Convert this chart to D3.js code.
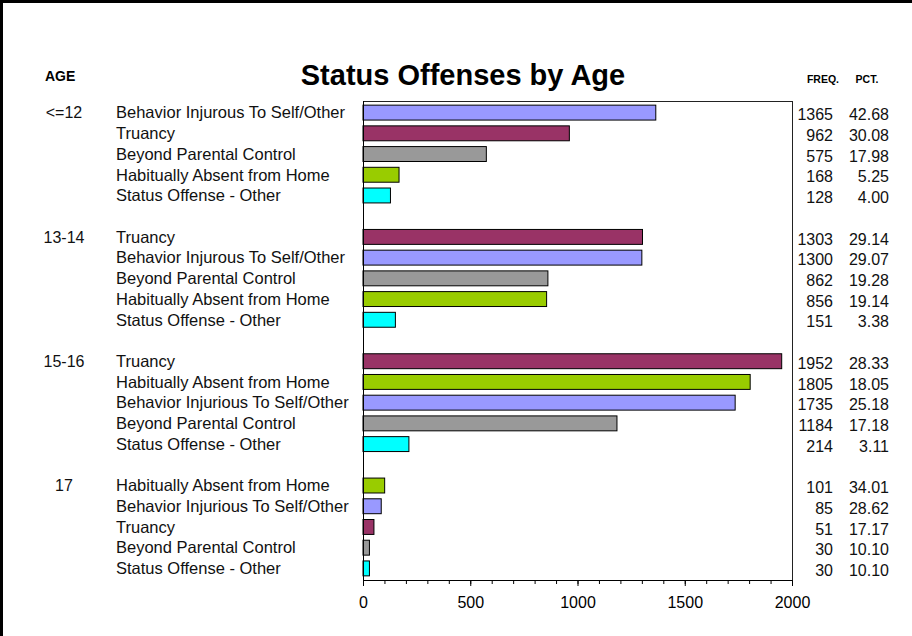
<!DOCTYPE html>
<html>
<head>
<meta charset="utf-8">
<script src="https://cdn.jsdelivr.net/npm/d3@7"></script>
<style>
  html, body { margin: 0; padding: 0; background: #fff; }
  svg { display: block; font-family: Arial, "Liberation Sans", sans-serif; }
</style>
</head>
<body>
<svg id="chart" width="912" height="636"></svg>
<script>
// ---- Data ----
const title = "Status Offenses by Age";
const ageGroups = ["<=12", "13-14", "15-16", "17"];
const offenseLabels = [
  ["Behavior Injurous To Self/Other", "Truancy", "Beyond Parental Control", "Habitually Absent from Home", "Status Offense - Other"],
  ["Truancy", "Behavior Injurous To Self/Other", "Beyond Parental Control", "Habitually Absent from Home", "Status Offense - Other"],
  ["Truancy", "Habitually Absent from Home", "Behavior Injurious To Self/Other", "Beyond Parental Control", "Status Offense - Other"],
  ["Habitually Absent from Home", "Behavior Injurious To Self/Other", "Truancy", "Beyond Parental Control", "Status Offense - Other"]
];
const offenseTypes = [
  ["behavior", "truancy", "beyond", "absent", "other"],
  ["truancy", "behavior", "beyond", "absent", "other"],
  ["truancy", "absent", "behavior", "beyond", "other"],
  ["absent", "behavior", "truancy", "beyond", "other"]
];
const freq = [
  [1365, 962, 575, 168, 128],
  [1303, 1300, 862, 856, 151],
  [1952, 1805, 1735, 1184, 214],
  [101, 85, 51, 30, 30]
];
const pct = [
  [42.68, 30.08, 17.98, 5.25, 4.00],
  [29.14, 29.07, 19.28, 19.14, 3.38],
  [28.33, 18.05, 25.18, 17.18, 3.11],
  [34.01, 28.62, 17.17, 10.10, 10.10]
];
const typeNames = ["behavior", "truancy", "beyond", "absent", "other"];
const typeColors = ["#9999FF", "#993366", "#999999", "#99CC00", "#00FFFF"];
const xTicks = [0, 500, 1000, 1500, 2000];
const xMinorTicks = d3.range(0, 2001, 100);

// ---- Build rows (with gap rows between groups) ----
const rows = [];
ageGroups.forEach((age, g) => {
  freq[g].forEach((v, i) => {
    rows.push({
      row: g * 6 + i, age: age, first: i === 0,
      label: offenseLabels[g][i], type: offenseTypes[g][i],
      value: v, pct: pct[g][i]
    });
  });
});
const nRows = ageGroups.length * 6 - 1;

// ---- Layout ----
const svg = d3.select("#chart");
const plot = { left: 363, right: 792, top: 101, bottom: 580 };

const x = d3.scaleLinear().domain([0, 2000]).range([plot.left, plot.right]);
const y = d3.scaleBand().domain(d3.range(nRows)).range([plot.top, plot.bottom])
  .paddingInner(0.28).paddingOuter(0.2);
const color = d3.scaleOrdinal().domain(typeNames).range(typeColors);

// outer frame (left and top edges visible)
svg.append("line").attr("x1", 1.5).attr("x2", 1.5).attr("y1", 0).attr("y2", 636)
  .attr("stroke", "#000").attr("stroke-width", 3);
svg.append("line").attr("x1", 0).attr("x2", 912).attr("y1", 1.5).attr("y2", 1.5)
  .attr("stroke", "#000").attr("stroke-width", 3);

// title
svg.append("text").attr("x", 463).attr("y", 85).attr("text-anchor", "middle")
  .attr("font-size", 29).attr("font-weight", "bold").text(title);

// column headers
svg.append("text").attr("x", 45).attr("y", 81).attr("font-size", 14)
  .attr("font-weight", "bold").text("AGE");
svg.append("text").attr("x", 823).attr("y", 83).attr("text-anchor", "middle")
  .attr("font-size", 10.5).attr("font-weight", "bold").text("FREQ.");
svg.append("text").attr("x", 867).attr("y", 83).attr("text-anchor", "middle")
  .attr("font-size", 10.5).attr("font-weight", "bold").text("PCT.");

// plot frame: top and right edges
svg.append("line").attr("x1", plot.left).attr("x2", plot.right + 0.5)
  .attr("y1", plot.top + 0.5).attr("y2", plot.top + 0.5)
  .attr("stroke", "#222").attr("stroke-width", 1);
svg.append("line").attr("x1", plot.right + 0.5).attr("x2", plot.right + 0.5)
  .attr("y1", plot.top).attr("y2", plot.bottom)
  .attr("stroke", "#222").attr("stroke-width", 1);

// bars
svg.append("g").selectAll("rect").data(rows).join("rect")
  .attr("x", x(0))
  .attr("y", d => y(d.row))
  .attr("width", d => x(d.value) - x(0))
  .attr("height", y.bandwidth())
  .attr("fill", d => color(d.type))
  .attr("stroke", "#000").attr("stroke-width", 1);

// left axis line
svg.append("line").attr("x1", plot.left + 0.5).attr("x2", plot.left + 0.5)
  .attr("y1", plot.top).attr("y2", plot.bottom)
  .attr("stroke", "#000").attr("stroke-width", 1);

// x axis: minor ticks
const minorAxis = svg.append("g").attr("transform", `translate(0,${plot.bottom})`)
  .call(d3.axisBottom(x).tickValues(xMinorTicks).tickSize(4).tickFormat(""));
minorAxis.select(".domain").remove();
minorAxis.selectAll("line").attr("stroke", "#000");

// x axis: major ticks and labels
const xAxis = svg.append("g").attr("transform", `translate(0,${plot.bottom})`)
  .call(d3.axisBottom(x).tickValues(xTicks).tickSize(6).tickSizeOuter(0).tickPadding(11)
    .tickFormat(d3.format("d")));
xAxis.select(".domain").attr("stroke", "#000");
xAxis.selectAll("line").attr("stroke", "#000");
xAxis.selectAll("text").attr("font-size", 16).attr("fill", "#000")
  .attr("font-family", 'Arial, "Liberation Sans", sans-serif');

// category labels
const labelY = d => y(d.row) + y.bandwidth() / 2;
svg.append("g").selectAll("text").data(rows).join("text")
  .attr("x", 116).attr("y", labelY).attr("dy", "0.35em")
  .attr("font-size", 16.5).attr("fill", "#111").text(d => d.label);

// age labels
svg.append("g").selectAll("text").data(rows.filter(d => d.first)).join("text")
  .attr("x", 64).attr("y", labelY).attr("dy", "0.35em").attr("text-anchor", "middle")
  .attr("font-size", 16).attr("fill", "#111").text(d => d.age);

// frequency and percent columns
svg.append("g").selectAll("text").data(rows).join("text")
  .attr("x", 833).attr("y", d => labelY(d) + 2).attr("dy", "0.35em").attr("text-anchor", "end")
  .attr("font-size", 16).attr("fill", "#111").text(d => d.value);
svg.append("g").selectAll("text").data(rows).join("text")
  .attr("x", 889).attr("y", d => labelY(d) + 2).attr("dy", "0.35em").attr("text-anchor", "end")
  .attr("font-size", 16).attr("fill", "#111").text(d => d.pct.toFixed(2));
</script>
</body>
</html>
